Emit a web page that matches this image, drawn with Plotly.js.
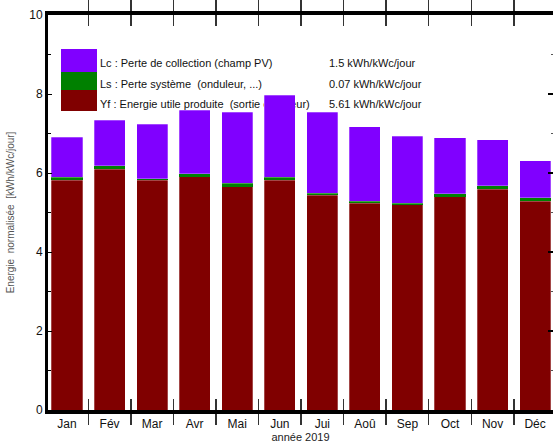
<!DOCTYPE html>
<html>
<head>
<meta charset="utf-8">
<script src="https://cdn.plot.ly/plotly-3.0.1.min.js"></script>
<style>html,body{margin:0;padding:0;background:#fff;}#chart{width:553px;height:447px;}</style>
</head>
<body>
<div id="chart"></div>
<script>
// Data
var months = ["Jan","Fév","Mar","Avr","Mai","Jun","Jui","Aoû","Sep","Oct","Nov","Déc"];
var yf = [5.82, 6.09, 5.82, 5.90, 5.65, 5.82, 5.44, 5.24, 5.20, 5.40, 5.59, 5.29];
var ls = [0.07, 0.10, 0.03, 0.08, 0.09, 0.07, 0.05, 0.05, 0.04, 0.07, 0.09, 0.08];
var lc = [1.02, 1.15, 1.38, 1.61, 1.80, 2.08, 2.05, 1.88, 1.69, 1.42, 1.16, 0.94];
var seriesNames = ["Lc : Perte de collection (champ PV)", "Ls : Perte système  (onduleur, ...)", "Yf : Energie utile produite  (sortie onduleur)"];
var seriesValues = ["1.5 kWh/kWc/jour", "0.07 kWh/kWc/jour", "5.61 kWh/kWc/jour"];
var colors = ["#8000ff", "#008000", "#800000"];

var FONT = 'Arial, "Liberation Sans", sans-serif';

// plot area geometry (pixels) for legend placement
var L = 48, R = 553, T = 15, B = 410;
function px(x){ return (x - L) / (R - L); }
function py(y){ return (B - y) / (B - T); }

var edge = {color: "rgba(255,255,255,0.35)", width: 0.8};
var traces = [
  {type:"bar", x:months, y:yf, name:seriesNames[2], marker:{color:colors[2], line:edge}, hoverinfo:"x+y"},
  {type:"bar", x:months, y:ls, name:seriesNames[1], marker:{color:colors[1], line:{width:0}}, hoverinfo:"x+y"},
  {type:"bar", x:months, y:lc, name:seriesNames[0], marker:{color:colors[0], line:edge}, hoverinfo:"x+y"},
  {type:"scatter", x:months, y:yf, yaxis:"y2", mode:"none", showlegend:false, hoverinfo:"skip"}
];

// legend boxes and labels (drawn below the bars)
var boxY = [[49,72],[72,90],[90,111]];
var textY = [62, 83, 103];
var shapes = [];
for (var i = 0; i < 3; i++) {
  shapes.push({type:"rect", xref:"paper", yref:"paper", layer:"below",
    x0:px(61), x1:px(97), y0:py(boxY[i][1]), y1:py(boxY[i][0]),
    fillcolor:colors[i], line:{width:0}});
  shapes.push({type:"rect", xref:"paper", yref:"paper", layer:"below",
    x0:px(97), x1:px(320), y0:py(textY[i]+6), y1:py(textY[i]-6),
    fillcolor:"rgba(0,0,0,0)", line:{width:0},
    label:{text:seriesNames[i], textposition:"middle left", padding:0,
      font:{family:FONT, size:11, color:"#111"}}});
  shapes.push({type:"rect", xref:"paper", yref:"paper", layer:"below",
    x0:px(326), x1:px(480), y0:py(textY[i]+6), y1:py(textY[i]-6),
    fillcolor:"rgba(0,0,0,0)", line:{width:0},
    label:{text:seriesValues[i], textposition:"middle left", padding:0,
      font:{family:FONT, size:11, color:"#111"}}});
}

var layout = {
  width:553, height:447,
  margin:{l:L, r:553-R, t:T, b:447-B},
  paper_bgcolor:"#fff", plot_bgcolor:"#fff",
  barmode:"stack", bargap:0.27,
  showlegend:false,
  font:{family:FONT, size:12, color:"#111"},
  xaxis:{
    type:"category", range:[-0.447, 11.42],
    showline:true, linewidth:4, linecolor:"#000", mirror:"allticks",
    ticks:"inside", tickson:"boundaries", ticklen:11, tickwidth:1.5, tickcolor:"#333",
    showgrid:false, zeroline:false,
    tickfont:{family:FONT, size:12, color:"#111"},
    title:{text:"année 2019", font:{family:FONT, size:11, color:"#222"}, standoff:2}
  },
  yaxis:{
    range:[0,10], dtick:2, tick0:0,
    showline:true, linewidth:3, linecolor:"#000",
    ticks:"inside", ticklen:4, tickwidth:1, tickcolor:"#000",
    minor:{dtick:1, ticks:"inside", ticklen:3, tickcolor:"#000"},
    showgrid:false, zeroline:false,
    tickfont:{family:FONT, size:12, color:"#111"},
    title:{text:"Energie  normalisée  [kWh/kWc/jour]", font:{family:FONT, size:10, color:"#555"}, standoff:13}
  },
  yaxis2:{
    overlaying:"y", side:"right", range:[0,10], dtick:2, tick0:0,
    showline:false, showticklabels:false, showgrid:false, zeroline:false,
    ticks:"inside", ticklen:5, tickwidth:1.2, tickcolor:"#000",
    minor:{dtick:1, ticks:"inside", ticklen:2, tickcolor:"#555"}
  },
  shapes:shapes
};

Plotly.newPlot("chart", traces, layout, {displayModeBar:false, staticPlot:true});
</script>
</body>
</html>
